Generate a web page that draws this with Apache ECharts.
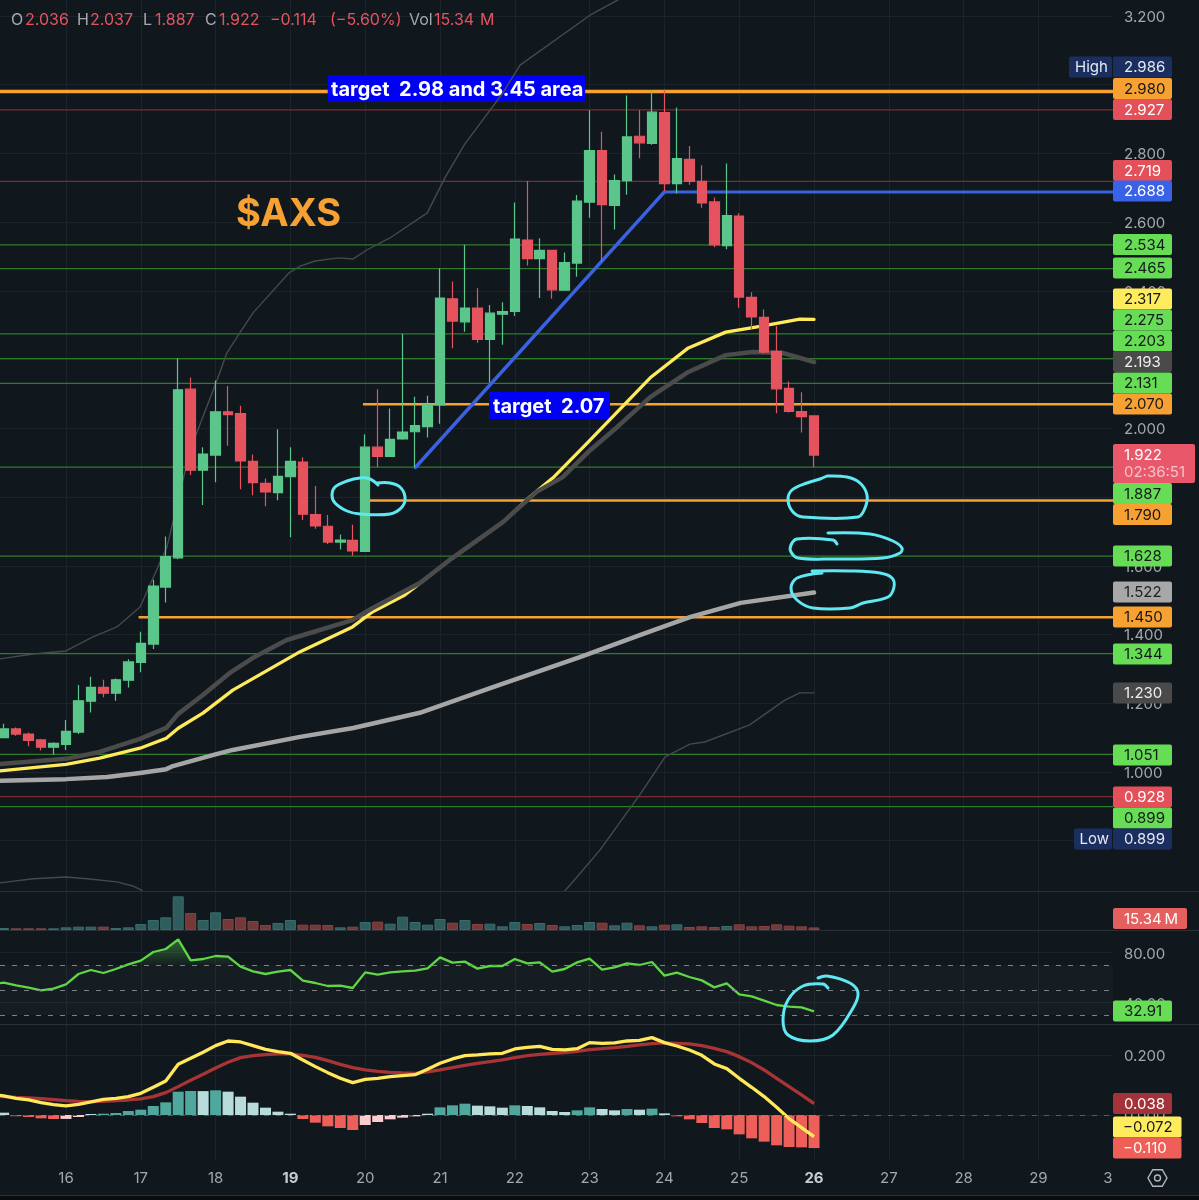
<!DOCTYPE html>
<html lang="en">
<head>
<meta charset="UTF-8">
<title>AXS 4H</title>
<script src="https://cdn.jsdelivr.net/npm/echarts@6/dist/echarts.min.js"></script>
<style>
  html,body{margin:0;padding:0;background:#10181e;}
  #chart{width:1199px;height:1200px;}
</style>
</head>
<body>
<div id="chart"></div>
<script>
// 4H candles, first one sits 5 bars before day 16. [open, close, low, high]
var candles = [
  [1.100,1.125,1.098,1.140],[1.125,1.110,1.105,1.129],[1.110,1.092,1.075,1.115],[1.093,1.072,1.062,1.096],
  [1.072,1.083,1.050,1.086],[1.080,1.118,1.064,1.151],[1.116,1.207,1.110,1.253],[1.206,1.246,1.173,1.277],
  [1.246,1.229,1.217,1.268],[1.229,1.268,1.207,1.272],[1.267,1.320,1.246,1.328],[1.319,1.374,1.290,1.408],
  [1.372,1.541,1.358,1.559],[1.538,1.627,1.493,1.685],[1.623,2.112,1.619,2.204],[2.114,1.878,1.864,2.148],
  [1.878,1.925,1.777,1.945],[1.922,2.048,1.843,2.139],[2.048,2.040,1.949,2.123],[2.043,1.905,1.823,2.066],
  [1.904,1.842,1.805,1.924],[1.840,1.815,1.773,1.854],[1.813,1.860,1.791,1.997],[1.859,1.904,1.683,1.945],
  [1.902,1.750,1.733,1.916],[1.749,1.716,1.708,1.832],[1.715,1.669,1.663,1.748],[1.669,1.675,1.647,1.691],
  [1.674,1.643,1.629,1.719],[1.642,1.945,1.642,1.983],[1.945,1.918,1.886,2.114],[1.918,1.968,1.918,2.058],
  [1.969,1.989,1.967,2.275],[1.990,2.008,1.886,2.092],[2.005,2.068,1.973,2.095],[2.068,2.379,2.013,2.466],
  [2.377,2.312,2.233,2.427],[2.310,2.350,2.281,2.534],[2.350,2.259,2.249,2.408],[2.259,2.335,2.133,2.359],
  [2.332,2.340,2.243,2.367],[2.340,2.551,2.327,2.657],[2.548,2.494,2.474,2.720],[2.494,2.518,2.379,2.553],
  [2.518,2.403,2.377,2.518],[2.402,2.482,2.402,2.512],[2.481,2.661,2.441,2.679],[2.658,2.808,2.613,2.926],
  [2.808,2.651,2.485,2.863],[2.649,2.721,2.579,2.739],[2.721,2.848,2.680,2.969],[2.850,2.831,2.786,2.926],
  [2.829,2.920,2.825,2.985],[2.919,2.712,2.691,2.986],[2.712,2.785,2.684,2.934],[2.783,2.719,2.709,2.822],
  [2.719,2.656,2.642,2.766],[2.659,2.534,2.527,2.672],[2.532,2.619,2.521,2.771],[2.618,2.382,2.351,2.626],
  [2.381,2.324,2.288,2.396],[2.323,2.222,2.218,2.346],[2.224,2.115,2.044,2.298],[2.116,2.049,2.046,2.136],
  [2.049,2.034,1.988,2.105],[2.036,1.922,1.887,2.037]
];
var volumes = [12,10,10,10,10,16,20,20,20,12,16,36,60,76,202,102,60,106,66,76,54,30,42,60,32,32,30,16,20,48,50,38,80,48,
  32,66,44,60,36,38,22,48,36,42,30,22,30,48,44,28,44,28,22,32,34,18,22,18,24,34,22,24,34,26,22,15.34];
var rsi = [55.9,53.7,51.9,49.7,51.1,54.5,62.8,66.0,63.6,66.8,70.5,73.5,80.4,82.8,90.5,73.7,74.8,77.2,76.7,68.7,64.9,62.8,64.7,66.0,
  57.5,55.6,53.2,53.5,51.6,64.1,62.3,64.1,64.9,65.5,67.3,76.1,71.9,72.7,67.1,69.2,69.2,74.8,71.3,72.1,64.7,66.8,72.1,75.1,66.3,
  68.1,71.3,70.0,72.4,61.5,63.9,60.4,57.7,52.1,55.3,46.5,44.9,41.5,38.0,36.7,36.1,32.91];
var macdLine = [.0634,.0556,.0500,.0412,.0345,.0301,.0356,.0434,.0523,.0556,.0612,.0722,.0922,.1133,.1687,.1887,.2087,.2308,.2463,.2430,.2308,.2186,.2109,.2053,
  .1831,.1610,.1410,.1221,.1077,.1188,.1221,.1277,.1310,.1343,.1521,.1720,.1865,.1976,.1998,.2031,.2053,.2197,.2253,.2286,.2186,.2164,.2208,.2408,.2386,.2397,
  .2463,.2486,.2574,.2408,.2297,.2164,.1987,.1698,.1543,.1221,.0922,.0612,.0257,-.0121,-.0420,-.072];
var macdSignal = [.0612,.0589,.0567,.0545,.0512,.0478,.0456,.0445,.0456,.0478,.0500,.0534,.0612,.0745,.0944,.1155,.1355,.1565,.1754,.1909,.1976,.2009,.2031,.2031,
  .1987,.1920,.1809,.1687,.1576,.1499,.1454,.1421,.1399,.1388,.1432,.1499,.1576,.1654,.1720,.1776,.1831,.1909,.1976,.2020,.2053,.2075,.2120,.2175,.2208,.2242,
  .2286,.2331,.2375,.2397,.2386,.2364,.2308,.2220,.2109,.1942,.1743,.1499,.1221,.0944,.0667,.038];
var macdHist = [.0078,-.0040,-.0067,-.0110,-.0133,-.0130,-.0067,.0033,.0044,.0067,.0133,.0177,.0299,.0421,.0776,.0798,.0795,.0821,.0776,.0610,.0410,.0244,.0111,.0044,
  -.0133,-.0255,-.0377,-.0432,-.0499,-.0333,-.0233,-.0144,-.0089,-.0044,.0044,.0255,.0322,.0377,.0311,.0288,.0244,.0322,.0299,.0255,.0133,.0100,.0155,.0255,.0200,.0155,
  .0200,.0177,.0211,.0055,-.0044,-.0144,-.0266,-.0432,-.0477,-.0643,-.0776,-.0887,-.1009,-.1065,-.1076,-.110];

// indicator values of the bar just left of the visible edge, lines run in from there
var rsiBefore = 54.7;
var macdBefore = .0700;
var signalBefore = .0625;

// moving averages and bands, read at their kinks: [day, price]
var maYellow = [[15.118,1.003],[16,1.022],[16.45,1.040],[16.99,1.069],[17.34,1.098],[17.5,1.127],[17.83,1.171],[18.23,1.238],[19.13,1.350],[19.83,1.422],[20.1,1.466],[20.53,1.515],[21.13,1.617],[21.84,1.727],[22.2,1.800],[22.51,1.856],[22.98,1.960],[23.81,2.147],[24.32,2.234],[24.82,2.280],[25.32,2.298],[25.81,2.318],[26,2.317]];
var maDark = [[15.118,1.023],[16,1.038],[16.45,1.058],[16.99,1.096],[17.34,1.128],[17.5,1.169],[17.83,1.224],[18.19,1.288],[18.5,1.332],[18.95,1.384],[19.83,1.442],[20.1,1.477],[20.73,1.550],[21.13,1.617],[21.84,1.727],[22.29,1.815],[22.64,1.858],[22.98,1.931],[23.37,2.004],[23.81,2.091],[24.32,2.164],[24.82,2.213],[25.18,2.222],[25.59,2.219],[26,2.193]];
var maLight = [[15.118,.974],[16,.979],[16.55,.985],[16.99,.997],[17.34,1.008],[17.43,1.017],[17.96,1.049],[18.23,1.064],[19.13,1.102],[19.84,1.128],[20.73,1.172],[21.67,1.244],[22.87,1.334],[23.68,1.399],[24.35,1.451],[25.02,1.492],[26,1.522]];
var bandUpper = [[15.118,1.329],[15.56,1.343],[16,1.352],[16.36,1.393],[16.68,1.422],[16.99,1.480],[17.35,1.655],[17.66,1.937],[18.02,2.141],[18.15,2.219],[18.33,2.280],[18.5,2.336],[18.98,2.452],[19.13,2.472],[19.33,2.487],[19.64,2.496],[19.84,2.493],[20.02,2.519],[20.33,2.554],[20.83,2.627],[21.07,2.731],[21.33,2.827],[21.84,2.976],[22.07,3.057],[23.01,3.203],[23.38,3.247]];
var bandLower = [[15.118,.677],[15.56,.689],[16,.694],[16.28,.689],[16.68,.680],[16.89,.668],[17.01,.656],[17.03,.650],[17.03,null],[22.67,.654],[22.80,.686],[23.14,.773],[23.67,.933],[24.01,1.044],[24.34,1.081],[24.54,1.087],[25.14,1.137],[25.61,1.209],[25.81,1.230],[26,1.230]];
var trendLine = [[20.67,1.886],[24,2.688]];

// drawn horizontals: value, start day (null = whole width)
var greenLevels = [2.534,2.465,2.275,2.203,2.131,1.887,1.628,1.344,1.051,.899];
var redLevels = [2.927,2.719,.928];
var orangeLevels = [2.980,2.070,1.790,1.450];
var orangeStarts = [null,19.97,20.05,16.97];
var blueLevel = 2.688;
var blueStart = 24;

var priceTicks = [.8,1,1.2,1.4,1.6,1.8,2,2.2,2.4,2.6,2.8,3,3.2];
var rsiTicks = [40,80];
var rsiBands = [70,50,30];
var macdTicks = [0,.2];
var dayTicks = [16,17,18,19,20,21,22,23,24,25,26,27,28,29];
var dayLabelValues = dayTicks.concat([29.93]);
var dayBold = [19,26];

var BG = '#10181e', GRID = '#1b242a', LABEL = '#a3a8ad';
var UP = '#5bc68a', DOWN = '#e5535f';
var X_MIN = 15.1176, X_MAX = 29.997;
var FONT = 'Inter';

function barDay(i){ return 16 + (i - 5) / 6; }

var chart = echarts.init(document.getElementById('chart'), null, {renderer:'canvas'});

function xAxis(idx, showLabels){
  return {
    type:'value', gridIndex:idx, min:X_MIN, max:X_MAX,
    axisLine:{show:false},
    axisTick:{show:false, customValues:dayTicks},
    splitLine:{show:true, lineStyle:{color:GRID, width:1}},
    axisLabel:{
      show:showLabels, customValues:dayLabelValues, margin:11, color:LABEL,
      fontFamily:FONT, fontSize:15,
      formatter:function(v){
        if (v > 29.5) return '3';
        return dayBold.indexOf(v) >= 0 ? '{b|' + v + '}' : String(v);
      },
      rich:{b:{fontWeight:'bold', color:'#c8ccd0', fontFamily:FONT, fontSize:15}}
    }
  };
}

function yAxis(idx, min, max, ticks, digits){
  return {
    type:'value', gridIndex:idx, position:'right', min:min, max:max, scale:true,
    axisLine:{show:false},
    axisTick:{show:false, customValues:ticks},
    splitLine:{show:ticks.length > 0, lineStyle:{color:GRID, width:1}},
    axisLabel:{
      show:ticks.length > 0, customValues:ticks, margin:11, color:LABEL, fontFamily:FONT, fontSize:15, align:'left',
      formatter:function(v){ return '{t|' + v.toFixed(digits) + '}'; },
      rich:{t:{color:LABEL, fontFamily:FONT, fontSize:15, padding:[3,0,0,0]}}
    }
  };
}

function hLine(value, start, color, width, z){
  return {
    type:'line', xAxisIndex:0, yAxisIndex:0, silent:true, showSymbol:false, z:z, animation:false,
    lineStyle:{color:color, width:width},
    data:[[start == null ? X_MIN : start, value],[X_MAX, value]]
  };
}

function curve(data, color, width, z){
  return {
    type:'line', xAxisIndex:0, yAxisIndex:0, silent:true, showSymbol:false, z:z,
    connectNulls:false, lineStyle:{color:color, width:width, cap:'round', join:'round'}, data:data
  };
}

function byIndex(arr, before){
  var pts = arr.map(function(v, i){ return [barDay(i), v]; });
  if (before != null) pts.unshift([barDay(-1), before]);
  return pts;
}

var series = [];
greenLevels.forEach(function(v){ series.push(hLine(v, null, '#2f7a2d', 1.3, 1)); });
redLevels.forEach(function(v){ series.push(hLine(v, null, '#7a2c30', 1.3, 1)); });
orangeLevels.forEach(function(v, i){ series.push(hLine(v, orangeStarts[i], '#f7a133', i === 0 ? 3.5 : 2.5, 1)); });
series.push(hLine(blueLevel, blueStart, '#3a62e0', 3, 4));

series.push(curve(bandUpper, '#45494b', 1.4, 3));
series.push(curve(bandLower, '#45494b', 1.4, 3));
series.push(curve(maLight, '#a6a6a6', 4.5, 3));
series.push(curve(maYellow, '#ffea5c', 3.3, 3));
series.push(curve(maDark, '#4b4b4b', 4.5, 3));
series.push(curve(trendLine, '#3a62e0', 3.5, 4));

series.push({
  type:'candlestick', xAxisIndex:0, yAxisIndex:0, barWidth:10, z:5, silent:true,
  encode:{x:0, y:[1,2,3,4]},
  itemStyle:{color:UP, color0:DOWN, borderColor:UP, borderColor0:DOWN, borderWidth:1.2},
  data:candles.map(function(c, i){ return [barDay(i), c[0], c[1], c[2], c[3]]; })
});

series.push({
  type:'bar', xAxisIndex:1, yAxisIndex:1, barWidth:11, silent:true,
  data:volumes.map(function(v, i){
    var up = candles[i][1] >= candles[i][0];
    return {value:[barDay(i), v], itemStyle:{color:up ? '#2f5d5e' : '#743838', borderColor:up ? '#3a6c6c' : '#884242', borderWidth:1}};
  })
});

// rsi: zone, dashed levels, fill above 70 and the line
series.push({
  type:'line', xAxisIndex:2, yAxisIndex:2, silent:true, showSymbol:false, z:2,
  lineStyle:{color:'#5fd646', width:2.3}, data:byIndex(rsi, rsiBefore),
  markArea:{silent:true, itemStyle:{color:'rgba(255,255,255,0.025)'}, data:[[{yAxis:rsiBands[2]},{yAxis:rsiBands[0]}]]},
  markLine:{silent:true, symbol:'none', label:{show:false}, animation:false,
    lineStyle:{color:'#7d8286', type:[5,7], width:1},
    data:rsiBands.map(function(v){ return {yAxis:v}; })}
});
series.push({
  type:'line', xAxisIndex:2, yAxisIndex:2, silent:true, showSymbol:false, z:1,
  lineStyle:{width:0},
  areaStyle:{origin:rsiBands[0], color:{type:'linear',x:0,y:0,x2:0,y2:1,
    colorStops:[{offset:0,color:'rgba(78,170,70,0.75)'},{offset:1,color:'rgba(78,170,70,0.08)'}]}},
  data:byIndex(rsi.map(function(v){ return Math.max(v, rsiBands[0]); }))
});

// macd
series.push({
  type:'bar', xAxisIndex:3, yAxisIndex:3, barWidth:11, silent:true, z:1,
  data:macdHist.map(function(v, i){
    var grew = i > 0 && Math.abs(v) > Math.abs(macdHist[i-1]);
    var c = v >= 0 ? (grew ? '#4fa79d' : '#b8dcd9') : (grew || macdHist[i-1] > 0 ? '#ef5f59' : '#fccbcd');
    return {value:[barDay(i), v], itemStyle:{color:c}};
  }),
  markLine:{silent:true, symbol:'none', label:{show:false}, animation:false,
    lineStyle:{color:'#565b5f', type:[5,7], width:1}, data:[{yAxis:0}]}
});
series.push({type:'line', xAxisIndex:3, yAxisIndex:3, silent:true, showSymbol:false, z:3,
  lineStyle:{color:'#a83435', width:3.3}, data:byIndex(macdSignal, signalBefore)});
series.push({type:'line', xAxisIndex:3, yAxisIndex:3, silent:true, showSymbol:false, z:4,
  lineStyle:{color:'#ffe95a', width:3.3}, data:byIndex(macdLine, macdBefore)});

// --- annotations, all in page pixels ---
var graphics = [];

function label(text, x, y, color, font, z, align){
  graphics.push({type:'text', silent:true, z:z || 30, style:{
    text:text, x:x, y:y, fill:color, font:font || ('15px ' + FONT),
    textAlign:align || 'left', textVerticalAlign:'middle', align:align || 'left', verticalAlign:'middle'
  }});
}
function box(x, y, w, h, color, z, r){
  graphics.push({type:'rect', silent:true, z:z || 29, shape:{x:x, y:y, width:w, height:h, r:r == null ? 2 : r}, style:{fill:color}});
}
function stroke(points, color){
  graphics.push({type:'polyline', silent:true, z:25, shape:{points:points, smooth:0.35},
    style:{stroke:color, fill:null, lineWidth:3, lineCap:'round', lineJoin:'round'}});
}

// pane dividers and the strip under the chart
[[891],[930],[1024],[1195]].forEach(function(r){ box(0, r[0], 1199, 1, '#2a3037', 20, 0); });
box(0, 1196, 1199, 4, '#0a0b0d', 20, 0);

// header
var HEAD_FONT = '16px ' + FONT;
[['O',11,'g'],['2.036',25,'r'],['H',77,'g'],['2.037',90,'r'],['L',143,'g'],['1.887',155,'r'],['C',205,'g'],['1.922',219,'r'],
 ['\u22120.114',270,'r'],['(\u22125.60%)',330,'r'],['Vol',409,'g'],['15.34',434,'r'],['M',480,'r']].forEach(function(h){
  label(h[0], h[1], 20.5, h[2] === 'g' ? '#a3a8ad' : '#e5535f', HEAD_FONT);
});

// price tags: text, centre y, width, background, text colour
var tagRows = [
  ['2.986',67,59,'#1b2e60','#e6e9ef'],['2.980',88.5,59,'#f7a133','#14181c'],['2.927',109.5,59,'#e4505a','#fff'],
  ['2.719',170.5,59,'#e4505a','#fff'],['2.688',191,59,'#3a62e8','#fff'],['2.534',244.5,59,'#66dd55','#14181c'],
  ['2.465',268,59,'#66dd55','#14181c'],['2.317',299,59,'#ffec5c','#14181c'],['2.275',320,59,'#66dd55','#14181c'],
  ['2.203',341,59,'#66dd55','#14181c'],['2.193',361.5,59,'#4a4a4a','#eee'],['2.131',383,59,'#66dd55','#14181c'],
  ['2.070',404,59,'#f7a133','#14181c'],['1.887',493.5,59,'#66dd55','#14181c'],['1.790',514.5,59,'#f7a133','#14181c'],
  ['1.628',556,59,'#66dd55','#14181c'],['1.522',592,59,'#a8a8a8','#222'],['1.450',617,59,'#f7a133','#14181c'],
  ['1.344',654,59,'#66dd55','#14181c'],['1.230',693,59,'#4a4a4a','#eee'],['1.051',755,59,'#66dd55','#14181c'],
  ['0.928',797,59,'#e4505a','#fff'],['0.899',818,59,'#66dd55','#14181c'],['0.899',839,59,'#1b2e60','#e6e9ef'],
  ['32.91',1011,59,'#66dd55','#14181c'],['0.038',1103.5,59,'#a33338','#fff'],['\u22120.072',1127,68.5,'#ffec5c','#14181c'],
  ['\u22120.110',1148,68.5,'#f05e58','#fff'],['15.34\u2009M',918.5,74,'#e4605e','#fff']
];
tagRows.forEach(function(t){
  box(1113, t[1] - 10.4, t[2], 20.8, t[3]);
  label(t[0], t[0].charAt(0) === '\u2212' ? 1123 : 1124, t[1] + 0.5, t[4]);
});
box(1069, 56.6, 43, 20.8, '#1b2e60'); label('High', 1075, 67.5, '#e6e9ef');
box(1074, 828.6, 38, 20.8, '#1b2e60'); label('Low', 1079.5, 839.5, '#e6e9ef');
box(1113, 444, 82, 39, '#e8586a');
label('1.922', 1124, 455, '#fff');
label('02:36:51', 1124, 472.5, '#f6c0c6');

// chart text boxes, under the moving averages
box(327.7, 75, 257.5, 27, '#0000f5', 2, 0);
label('target  2.98 and 3.45 area', 331, 90, '#fff', 'bold 20px ' + FONT, 2);
box(489, 392, 121, 27, '#0000f5', 2, 0);
label('target  2.07', 493, 406.5, '#fff', 'bold 20px ' + FONT, 2);
label('$AXS', 236, 214.5, '#f7a133', 'bold 38px ' + FONT, 6);

// hand drawn circles
var CYAN = '#5fe8f2';
stroke([[378,485],[370,479],[360,478],[347,481],[335,487],[332,495],[335,503],[347,511],[360,514],[390,514],[402,507],[405,497],[400,487],[390,483],[377,483]], CYAN);
stroke([[827,476],[847,477],[860,483],[867,495],[865,508],[858,517],[803,517],[793,512],[788,500],[792,490],[807,483],[820,479],[827,476]], CYAN);
stroke([[837,544],[833,540],[797,539],[791,545],[791,552],[798,558],[833,559],[883,558],[900,553],[902,548],[893,541],[870,534],[828,533]], CYAN);
stroke([[812,571],[850,571],[880,573],[892,578],[894,587],[888,597],[863,603],[850,608],[813,608],[797,600],[791,588],[797,578],[822,573]], CYAN);
stroke([[828,988],[823,984],[803,986],[788,1000],[783,1020],[788,1035],[810,1041],[833,1035],[853,1008],[858,993],[850,983],[827,976],[818,978]], CYAN);

// settings icon
var hexR = 9.5, hexPts = [];
for (var a = 0; a < 6; a++) hexPts.push([1157.5 + hexR * Math.cos(a * Math.PI / 3), 1178 + hexR * Math.sin(a * Math.PI / 3)]);
graphics.push({type:'polygon', silent:true, z:30, shape:{points:hexPts}, style:{stroke:'#b4b8bc', fill:null, lineWidth:1.4}});
graphics.push({type:'circle', silent:true, z:30, shape:{cx:1157.5, cy:1178, r:3}, style:{stroke:'#b4b8bc', fill:null, lineWidth:1.4}});

chart.setOption({
  animation:false,
  backgroundColor:BG,
  grid:[
    {left:0, width:1113, top:0, height:891},
    {left:0, width:1113, top:891, height:39},
    {left:0, width:1113, top:930, height:94},
    {left:0, width:1113, top:1024, height:136}
  ],
  xAxis:[xAxis(0,false), xAxis(1,false), xAxis(2,false), xAxis(3,true)],
  yAxis:[
    yAxis(0, 0.6534, 3.2466, priceTicks, 3),
    yAxis(1, 0, 234, [], 0),
    yAxis(2, 22.8, 98, rsiTicks, 2),
    yAxis(3, -0.1497, 0.3028, macdTicks, 3)
  ],
  series:series,
  graphic:{elements:graphics}
});
</script>
</body>
</html>
